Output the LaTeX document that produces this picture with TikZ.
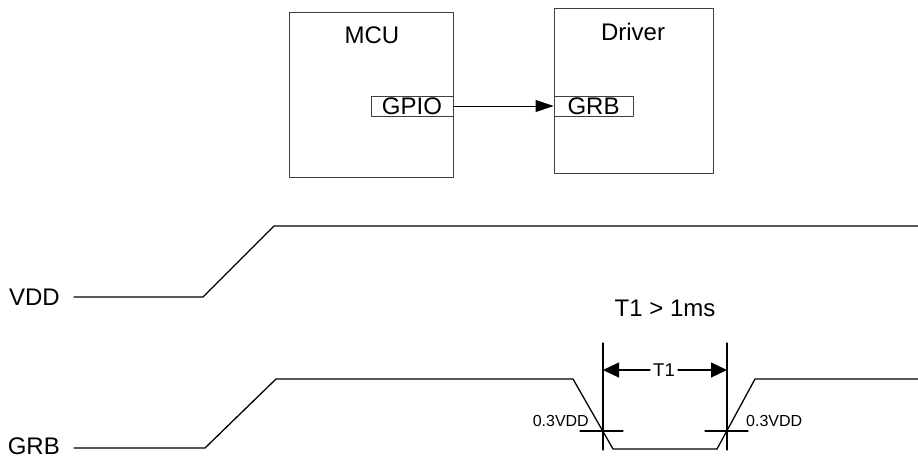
\documentclass[tikz,border=0pt]{standalone}
\usepackage{fontspec}
\setmainfont{Liberation Sans}
\usetikzlibrary{arrows.meta, positioning}

\begin{document}
\begin{tikzpicture}[x=1pt, y=-1pt, line join=round, line cap=round]
        \tikzset{blk/.style={draw=black!75, line width=0.9pt, minimum height=165pt, inner sep=0pt}}
        \tikzset{port/.style={draw=black!75, line width=0.9pt, minimum height=20pt, inner sep=0pt,
                              font=\fontsize{24}{24}\selectfont}}
        \tikzset{lbl/.style={font=\fontsize{24}{24}\selectfont, inner sep=0pt}}
        \tikzset{small/.style={font=\fontsize{16}{16}\selectfont, inner sep=0pt}}
        \tikzset{wave/.style={line width=1.3pt}}
        \tikzset{mark line/.style={line width=1.1pt}}
        \tikzset{dimarr/.style={-{Triangle[length=16pt, width=15pt]}, line width=1.1pt}}
        \useasboundingbox (0,0) rectangle (918,458);
        % block diagram
        \node[blk, minimum width=164pt] (mcu) at (371,94.5) {};
        \node[blk, minimum width=159pt] (drv) at (633.5,90.5) {};
        \node[lbl] (mculbl) at (372,35) {MCU};
        \node[lbl] (drvlbl) at (633,32) {Driver};
        \node[port, minimum width=82pt] (gpio) at (412,106) {GPIO};
        \node[port, minimum width=79pt] (grbin) at (593.5,106) {GRB};
        \draw[-{Triangle[length=18pt, width=12pt]}, line width=0.9pt] (gpio.east) -- (grbin.west);
        % waveforms
        \node[lbl, anchor=east] (vdd) at (60,297) {VDD};
        \node[lbl, anchor=east] (grb) at (60,446) {GRB};
        \draw[wave] (74,297) -- (203,297) -- (274,226) -- (918,226);
        \draw[wave] (74,448) -- (205,448) -- (276,379) -- (573,379) -- (613,449)
                 -- (717,449) -- (755,379) -- (918,379);
        % T1 markers
        \draw[mark line] (603,343) -- (603,450);
        \draw[mark line] (727,343) -- (727,450);
        \draw[mark line] (580,431) -- (623,431);
        \draw[mark line] (705,431) -- (748,431);
        \coordinate (m1) at (603,370);
        \coordinate (m2) at (727,370);
        \node[font=\fontsize{18.5}{18.5}\selectfont, inner sep=3pt] (t1) at (664,370) {T1};
        \draw[dimarr] (t1.west) -- (m1);
        \draw[dimarr] (t1.east) -- (m2);
        \node[lbl] (cond) at (665,308) {T1 > 1ms};
        \node[small, anchor=east] (th1) at (589,421) {0.3VDD};
        \node[small, anchor=west] (th2) at (746,421) {0.3VDD};
\end{tikzpicture}
\end{document}
